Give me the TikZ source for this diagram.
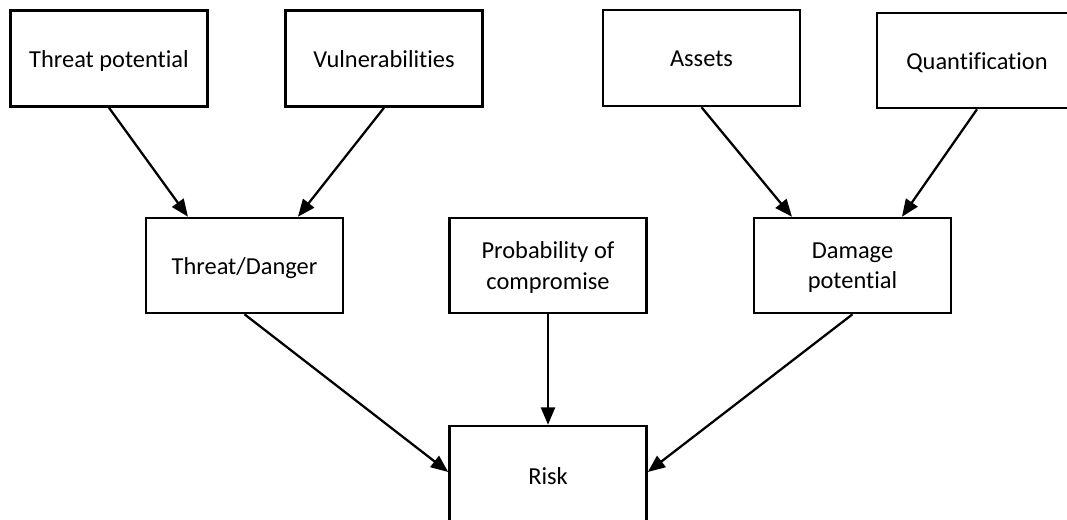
\documentclass[tikz,border=0pt]{standalone}
\usepackage{fontspec}
\setmainfont{Carlito}[Ligatures=NoCommon]
\usetikzlibrary{arrows.meta}
\begin{document}
\begin{tikzpicture}[x=0.75pt,y=-0.75pt,
  box/.style={draw=black, line width=1.9pt, rectangle,
    minimum width=147.75pt, minimum height=72pt, align=center,
    inner sep=2pt, font=\fontsize{18.3}{22.8}\selectfont},
  oneline/.style={text height=16.9pt, text depth=3.7pt},
  twolines/.style={text depth=-1.5pt},
  link/.style={line width=1.7pt, -{Triangle[length=13pt,width=10.5pt]}}]
% page frame (boxes at the right and bottom run past it)
\clip (0,0) rectangle (1067,520);
\fill[white] (0,0) rectangle (1067,520);

% top row
\node[box, oneline] (tp) at (109,58.5) {Threat potential};
\node[box, oneline] (vu) at (384,58.5) {Vulnerabilities};
\node[box, oneline] (as) at (701.5,58) {Assets};
\node[box, oneline, minimum width=150pt, minimum height=71.25pt] (qu) at (977,60.5) {Quantification};

% middle row
\node[box, oneline, minimum height=71.25pt] (td) at (244.5,265.5) {Threat/Danger};
\node[box, twolines, minimum height=71.25pt] (pc) at (548,265.5) {Probability of\\compromise};
\node[box, twolines, minimum height=71.25pt] (dp) at (852.5,265.5) {Damage\\potential};

% result
\node[box, oneline, minimum height=75pt] (rk) at (548,476) {Risk};

% connectors
\draw[link] (tp.south) -- ([xshift=-42.4pt]td.north);
\draw[link] (vu.south) -- ([xshift=40.1pt]td.north);
\draw[link] (as.south) -- ([xshift=-45.4pt]dp.north);
\draw[link] (qu.south) -- ([xshift=37.1pt]dp.north);
\draw[link] (td.south) -- ([yshift=3pt]rk.west);
\draw[link] (pc.south) -- (rk.north);
\draw[link] (dp.south) -- ([yshift=3pt]rk.east);
\end{tikzpicture}
\end{document}
